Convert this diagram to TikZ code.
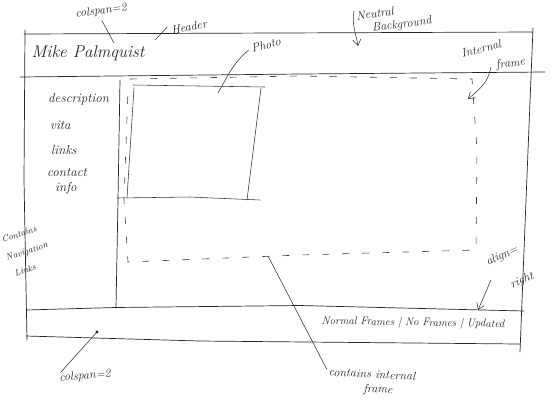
\documentclass[tikz,border=0pt]{standalone}
\usetikzlibrary{arrows.meta}
\begin{document}
\begin{tikzpicture}[x=1pt,y=-1pt,
  pen/.style={line width=0.7pt, draw=black!85, line cap=round},
  thin pen/.style={line width=0.55pt, draw=black!80, line cap=round},
  dashpen/.style={line width=0.6pt, draw=black!75, dash pattern=on 7pt off 13pt},
  note/.style={font=\itshape\fontsize{12}{14}\selectfont, inner sep=0pt, text=black!85},
  small note/.style={font=\itshape\fontsize{9}{10}\selectfont, inner sep=0pt, text=black!85},
  navtext/.style={font=\itshape\fontsize{13}{15}\selectfont, inner sep=0pt, anchor=west, text=black!85},
  titletext/.style={font=\itshape\fontsize{17}{19}\selectfont, inner sep=0pt, text=black!85},
  foottext/.style={font=\itshape\fontsize{11}{13}\selectfont, inner sep=0pt, text=black!85},
  barb/.style={-{Straight Barb[length=6pt,width=8pt]}}
]
\useasboundingbox (0,0) rectangle (553,408);
\fill[white] (0,0) rectangle (553,408);

% outer frame
\draw[pen] (24,34) -- (533,32);
\draw[pen] (25,30) -- (24,180) -- (27,340);
\draw[pen] (533,28) -- (526,200) -- (520,352);
\draw[pen] (20,77) -- (300,74) -- (545,72);
\draw[pen] (26,310) -- (115,307.5) -- (300,305.5) -- (524,311);
\draw[pen] (26,336) -- (200,341) -- (520,344);

% nav separator
\draw[pen] (120,80) -- (118,200) -- (116,308);

% photo box
\draw[thin pen] (133,85) -- (265,87);
\draw[thin pen] (134,88) -- (127,198);
\draw[thin pen] (261,88) -- (247,200);
\draw[thin pen] (117,198) -- (190,197) -- (260,200);

% internal dashed frame
\draw[dashpen] (130,79) -- (300,76) -- (472,79) -- (477,150) -- (476,250) -- (300,255) -- (128,262) -- (124,200) -- (128,90);

% header text
\node[titletext] (name) at (88,53) {Mike Palmquist};
\node[note, rotate=8] (cs1) at (101,11) {colspan=2};
\coordinate (cs1pt) at (114,43);
\draw[thin pen] (cs1.south) ++(0,4) -- (cs1pt);
\node[note, rotate=10] (hdr) at (189,27) {Header};
\coordinate (hdpt) at (155,40);
\draw[thin pen] (hdpt) -- ([xshift=-4pt,yshift=3pt]hdr.west);

% photo label
\node[note, rotate=15] (photo) at (266,45) {Photo};
\coordinate (photopt) at (218,93);
\draw[thin pen] ([xshift=-4pt,yshift=3pt]photo.south west) to[out=220,in=60] (photopt);

% neutral background
\node[note, rotate=8, anchor=west] (nb1) at (356,16) {Neutral};
\node[note, rotate=8, anchor=west] (nb2) at (372,29) {Background};
\coordinate (nbpt) at (358,46);
\draw[thin pen, barb] ([xshift=-2pt,yshift=5pt]nb1.west) to[out=260,in=100] (nbpt);

% internal frame
\node[note, rotate=15, anchor=west] (if1) at (461,54) {Internal};
\node[note, rotate=8, anchor=west] (if2) at (496,66) {frame};
\coordinate (ifpt) at (468,99);
\draw[thin pen, barb] ([xshift=-6pt,yshift=4pt]if2.south west) to[out=260,in=40] (ifpt);

% nav items
\node[navtext] (n1) at (48,99) {description};
\node[navtext] (n2) at (50,125) {vita};
\node[navtext] (n3) at (51,150) {links};
\node[navtext] (n4) at (47,172) {contact};
\node[navtext] (n5) at (55,188) {info};

% contains navigation links
\node[small note, rotate=18] (cnl1) at (19,234) {Contains};
\node[small note, rotate=18] (cnl2) at (27,252) {Navigation};
\node[small note, rotate=18] (cnl3) at (25,270) {Links};

% footer text
\node[foottext, rotate=-1] (ft) at (413,323) {Normal Frames | No Frames | Updated};

% align right
\node[note, rotate=25] (ar1) at (502,256) {align=};
\node[note, rotate=22] (ar2) at (522,281) {right};
\coordinate (arpt) at (478,310);
\draw[thin pen, barb] (491,280) -- (arpt);

% contains internal frame
\node[note, rotate=-3] (cif1) at (372,374) {contains internal};
\node[note, rotate=-3] (cif2) at (378,390) {frame};
\coordinate (cifpt) at (268,256);
\draw[thin pen] ([xshift=-2pt,yshift=-2pt]cif1.north west) -- (cifpt);

% colspan bottom
\node[note, rotate=5] (cs2) at (85,376) {colspan=2};
\coordinate (cs2pt) at (97,332);
\draw[thin pen] ([xshift=-24pt,yshift=-2pt]cs2.north) -- (cs2pt);
\fill[black!85] (cs2pt) circle (1.6pt);
\end{tikzpicture}
\end{document}
